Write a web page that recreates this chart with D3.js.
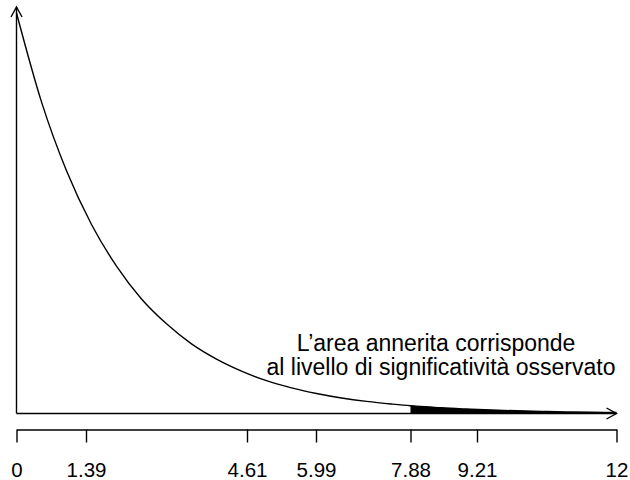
<!DOCTYPE html>
<html lang="en">
<head>
<meta charset="UTF-8">
<title>Chi-square density</title>
<script src="https://d3js.org/d3.v7.min.js"></script>
<style>
    body { margin: 0; background: white; }
    text { font-family: "Liberation Sans", Arial, sans-serif; }
</style>
</head>
<body>
<div id="chart"></div>
<script>
    // density (x in chi-square units, y density)
    const densX = [0, 0.5, 1, 1.5, 2, 2.5, 3, 3.5, 4, 4.5, 5, 5.5, 6, 6.5, 7, 7.5, 7.88, 8, 8.5, 9, 9.5, 10, 10.5, 11, 11.5, 12];
    const densY = [0.5, 0.389, 0.303, 0.236, 0.184, 0.143, 0.112, 0.087, 0.068, 0.053, 0.041, 0.032, 0.025, 0.0194, 0.0151, 0.0118, 0.0097, 0.0092, 0.0071, 0.0056, 0.0043, 0.0034, 0.0026, 0.0020, 0.0016, 0.0012];
    const observed = 7.88;
    const tickVals = [0, 1.39, 4.61, 5.99, 7.88, 9.21, 12];
    const tickLabels = ["0", "1.39", "4.61", "5.99", "7.88", "9.21", "12"];
    const note = ["L\u2019area annerita corrisponde", "al livello di significativit\u00e0 osservato"];

    const width = 630, height = 480;
    const svg = d3.select("#chart").append("svg")
        .attr("width", width)
        .attr("height", height);

    const x = d3.scaleLinear().domain([0, 12]).range([16.5, 616.5]);
    const y = d3.scaleLinear().domain([0, 0.5]).range([413.5, 13]);

    const pts = densX.map((d, i) => ({ x: d, y: densY[i] }));

    // shaded tail
    const tail = pts.filter(d => d.x >= observed);
    svg.append("path")
        .datum(tail)
        .attr("fill", "black")
        .attr("d", d3.area()
            .x(d => x(d.x))
            .y0(y(0))
            .y1(d => y(d.y))
            .curve(d3.curveMonotoneX));

    // curve
    svg.append("path")
        .datum(pts)
        .attr("fill", "none")
        .attr("stroke", "black")
        .attr("stroke-width", 1.4)
        .attr("d", d3.line()
            .x(d => x(d.x))
            .y(d => y(d.y))
            .curve(d3.curveMonotoneX));

    // arrow axes
    const ax = svg.append("g")
        .attr("fill", "none")
        .attr("stroke", "black")
        .attr("stroke-width", 1.4);
    const x0 = x(0), yb = y(0), xEnd = x(12), yTop = 7;
    ax.append("path").attr("d", "M" + x0 + "," + yb + "V" + yTop);
    ax.append("path").attr("d", "M" + (x0 - 5.5) + "," + (yTop + 10) + "L" + x0 + "," + yTop + "L" + (x0 + 5.5) + "," + (yTop + 10));
    ax.append("path").attr("d", "M" + x0 + "," + yb + "H" + xEnd);
    ax.append("path").attr("d", "M" + (xEnd - 10) + "," + (yb - 5.5) + "L" + xEnd + "," + yb + "L" + (xEnd - 10) + "," + (yb + 5.5));

    // tick axis below
    const tickAxis = svg.append("g")
        .attr("transform", "translate(0,429.5)")
        .call(d3.axisBottom(x)
            .tickValues(tickVals)
            .tickFormat((d, i) => tickLabels[i])
            .tickSize(13)
            .tickSizeOuter(0));
    tickAxis.selectAll("path, line").attr("stroke-width", 1.4);
    tickAxis.selectAll("text")
        .attr("y", 47.5)
        .attr("dy", null)
        .attr("font-size", 20.5)
        .attr("font-family", "Liberation Sans, Arial, sans-serif");

    // note (R centres each line a little differently)
    svg.append("g").selectAll("text")
        .data(note)
        .enter().append("text")
        .attr("x", (d, i) => 436 + i * 5)
        .attr("y", (d, i) => 351 + i * 24)
        .attr("text-anchor", "middle")
        .attr("font-size", 23)
        .text(d => d);
</script>
</body>
</html>
